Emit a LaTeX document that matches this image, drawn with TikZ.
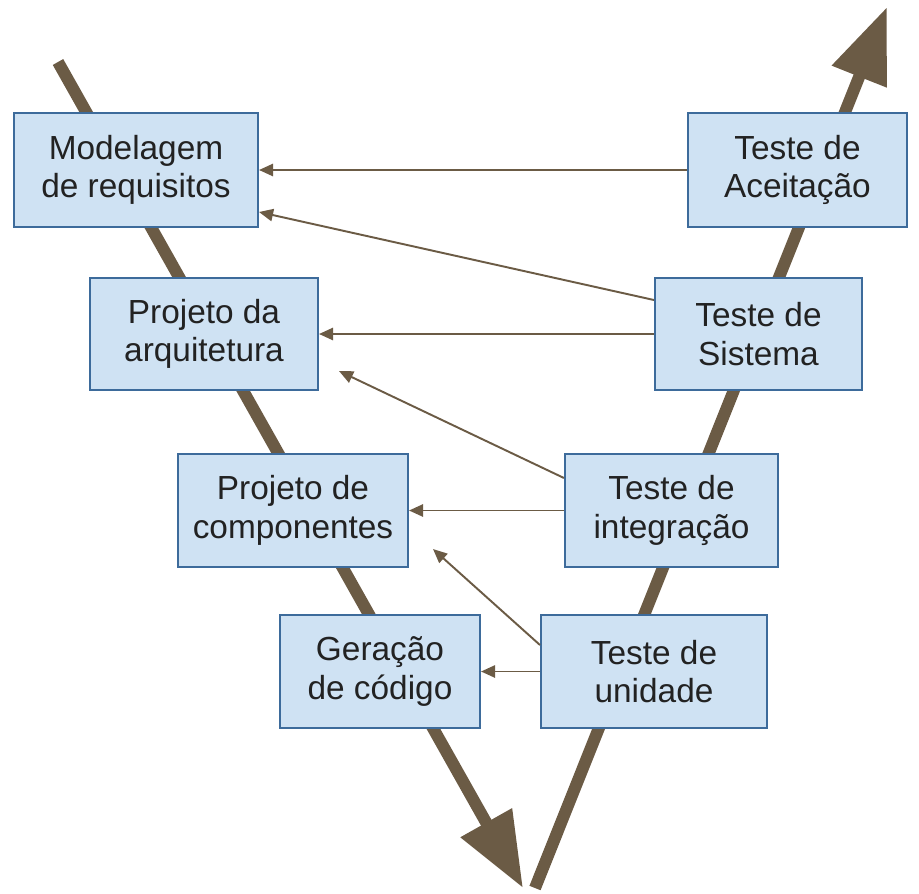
\documentclass[tikz,border=0pt]{standalone}
\usepackage{fontspec}
\setmainfont{Liberation Sans}
\usetikzlibrary{arrows.meta}
\definecolor{boxfill}{HTML}{CFE2F3}
\definecolor{boxdraw}{HTML}{3D6B9B}
\definecolor{vline}{HTML}{6B5B45}
\definecolor{txt}{HTML}{222222}
\tikzset{
  box/.style={draw=boxdraw, line width=1.2pt, fill=boxfill, align=center, text=txt,
    font=\fontsize{19}{22}\selectfont, inner sep=0pt},
  vbar/.style={draw=vline, line width=0.24cm, -{Triangle[length=1.5cm,width=1.12cm]}},
  link/.style={draw=vline, line width=1.1pt, -{Triangle[length=8pt,width=7pt]}}
}
\begin{document}
\begin{tikzpicture}[x=0.02cm,y=-0.02cm]
\useasboundingbox (0,0) rectangle (919,893);
\coordinate (ltop) at (58,62);
\coordinate (ltip) at (523,888);
\coordinate (rbot) at (535,888);
\coordinate (rtip) at (887,7);
\draw[vbar] (ltop) -- (ltip);
\draw[vbar] (rbot) -- (rtip);

\node[box, minimum width=4.88cm, minimum height=2.28cm] (req) at (136,170) {Modelagem\\de requisitos};
\node[box, minimum width=4.38cm, minimum height=2.28cm] (acc) at (797.5,170) {Teste de\\Aceitação};
\node[box, minimum width=4.56cm, minimum height=2.24cm] (arq) at (204,334) {Projeto da\\arquitetura};
\node[box, minimum width=4.14cm, minimum height=2.24cm] (sis) at (758.5,334) {Teste de\\Sistema};
\node[box, minimum width=4.6cm, minimum height=2.26cm] (comp) at (293,510.5) {Projeto de\\componentes};
\node[box, minimum width=4.26cm, minimum height=2.26cm] (int) at (671.5,510.5) {Teste de\\integração};
\node[box, minimum width=4.0cm, minimum height=2.26cm] (ger) at (380,671.5) {Geração\\de código};
\node[box, minimum width=4.52cm, minimum height=2.26cm] (uni) at (654,671.5) {Teste de\\unidade};

\draw[link] (acc.west) -- (req.east);
\draw[link] ([yshift=0.68cm]sis.west) -- ([yshift=-0.84cm]req.east);
\draw[link] (sis.west) -- (arq.east);
\draw[link] ([yshift=0.65cm]int.west) -- ([xshift=0.4cm,yshift=0.4cm]arq.south east);
\draw[link] (int.west) -- (comp.east);
\draw[link] ([yshift=0.53cm]uni.west) -- ([xshift=0.48cm,yshift=0.38cm]comp.south east);
\draw[link] (uni.west) -- (ger.east);
\end{tikzpicture}
\end{document}
